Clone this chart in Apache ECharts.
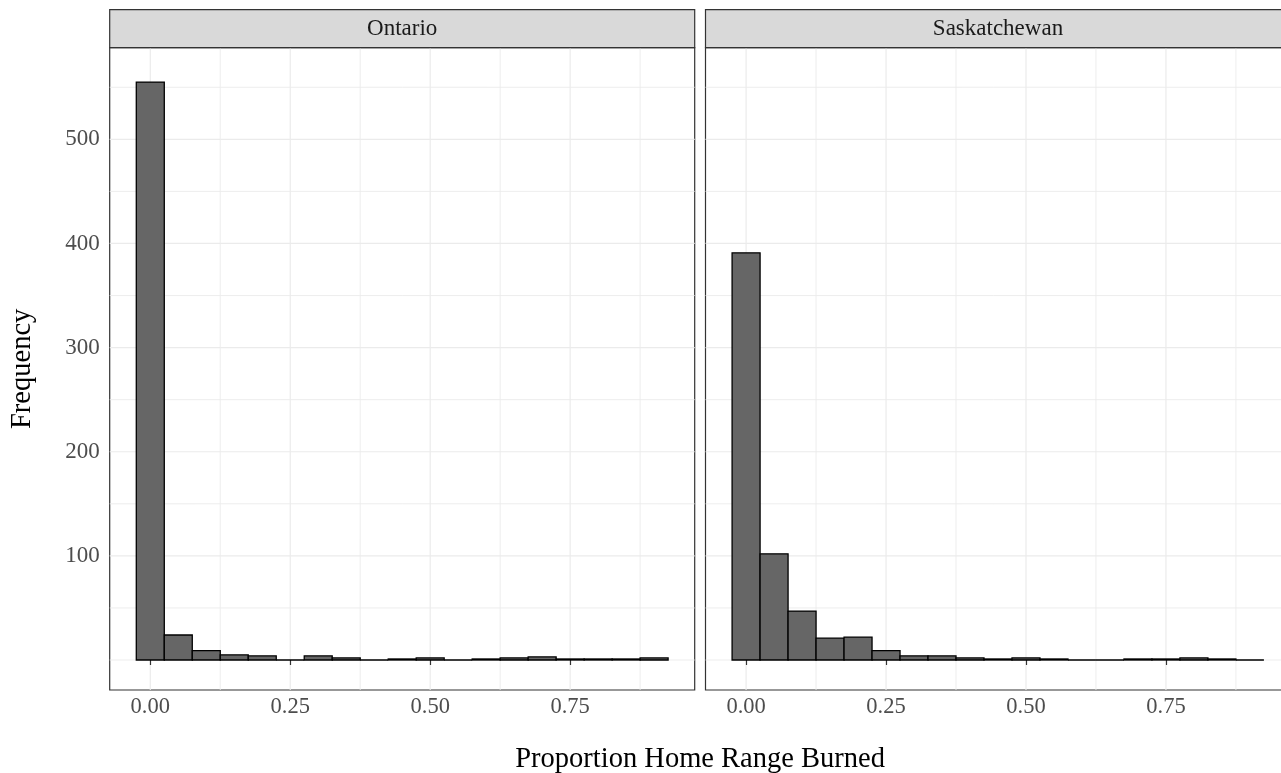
<!DOCTYPE html>
<html>
<head>
<meta charset="utf-8">
<script src="https://cdn.jsdelivr.net/npm/echarts@6/dist/echarts.min.js"></script>
<style>
  html, body { margin: 0; padding: 0; background: #ffffff; }
  #chart { width: 1281px; height: 773px; }
</style>
</head>
<body>
<div id="chart"></div>
<script>
// ---- data ----
const PANELS = ['Ontario', 'Saskatchewan'];
const BIN_CENTERS = [0, 0.05, 0.10, 0.15, 0.20, 0.25, 0.30, 0.35, 0.40, 0.45, 0.50, 0.55, 0.60, 0.65, 0.70, 0.75, 0.80, 0.85, 0.90];
const BIN_WIDTH = 0.05;
const ONTARIO = [555, 24, 9, 5, 4, 0, 4, 2, 0, 1, 2, 0, 1, 2, 3, 1, 1, 1, 2];
const SASKATCHEWAN = [391, 102, 47, 21, 22, 9, 4, 4, 2, 1, 2, 1, 0, 0, 1, 1, 2, 1, 0];
const X_MAJOR = [0, 0.25, 0.5, 0.75];
const X_MINOR = [0.125, 0.375, 0.625, 0.875];
const Y_MAJOR = [100, 200, 300, 400, 500];
const Y_MINOR = [0, 50, 150, 250, 350, 450, 550];
const X_TITLE = 'Proportion Home Range Burned';
const Y_TITLE = 'Frequency';

const X_MIN = -0.0725, X_MAX = 0.9725;
const Y_MIN = -28.8, Y_MAX = 588;

const FONT = '"Liberation Serif", "Times New Roman", serif';
const PANEL_TOP = 47.7, PANEL_H = 642.3, PANEL_W = 585;
const PANEL_LEFTS = [109.7, 705.5];
const STRIP_TOP = 9.7, STRIP_H = 38;

const chart = echarts.init(document.getElementById('chart'), null, { renderer: 'canvas' });

const grids = PANEL_LEFTS.map(l => ({
  left: l, top: PANEL_TOP, width: PANEL_W, height: PANEL_H,
  show: true, backgroundColor: '#ffffff', borderColor: '#333333', borderWidth: 1.2,
  containLabel: false, outerBoundsMode: 'none'
}));

const xAxes = PANEL_LEFTS.map((l, i) => ({
  type: 'value', gridIndex: i, min: X_MIN, max: X_MAX,
  axisLine: { show: false },
  splitLine: { show: false },
  axisTick: { show: true, customValues: X_MAJOR, length: 5, inside: false, lineStyle: { color: '#333333', width: 1.2 } },
  axisLabel: { show: true, customValues: X_MAJOR, margin: 6, color: '#4D4D4D', fontFamily: FONT, fontSize: 22.5,
    formatter: v => Number(v).toFixed(2) }
}));

const yAxes = PANEL_LEFTS.map((l, i) => ({
  type: 'value', gridIndex: i, min: Y_MIN, max: Y_MAX,
  axisLine: { show: false },
  splitLine: { show: false },
  axisTick: { show: i === 0, customValues: Y_MAJOR, length: 5, lineStyle: { color: '#333333', width: 1.2 } },
  axisLabel: { show: i === 0, customValues: Y_MAJOR, margin: 10, color: '#4D4D4D', fontFamily: FONT, fontSize: 23 }
}));

// gridline items: [x, y, orientation(0=horizontal,1=vertical), major]
const gridItems = [];
Y_MINOR.forEach(v => gridItems.push([0, v, 0, 0]));
Y_MAJOR.forEach(v => gridItems.push([0, v, 0, 1]));
X_MINOR.forEach(v => gridItems.push([v, 0, 1, 0]));
X_MAJOR.forEach(v => gridItems.push([v, 0, 1, 1]));

function renderGrid(params, api) {
  const cs = params.coordSys;
  const orient = api.value(2);
  const major = api.value(3);
  const style = { stroke: '#EBEBEB', lineWidth: major ? 1.2 : 0.9 };
  if (orient === 0) {
    const y = api.coord([0, api.value(1)])[1];
    return { type: 'line', shape: { x1: cs.x, y1: y, x2: cs.x + cs.width, y2: y }, style };
  } else {
    const x = api.coord([api.value(0), 0])[0];
    return { type: 'line', shape: { x1: x, y1: cs.y, x2: x, y2: cs.y + cs.height }, style };
  }
}

function renderBar(params, api) {
  const c = api.value(0), n = api.value(1);
  const p0 = api.coord([c - BIN_WIDTH / 2, n]);
  const p1 = api.coord([c + BIN_WIDTH / 2, 0]);
  return {
    type: 'rect',
    shape: { x: p0[0], y: p0[1], width: p1[0] - p0[0], height: p1[1] - p0[1] },
    style: { fill: '#666666', stroke: '#000000', lineWidth: 1.3 }
  };
}

const counts = [ONTARIO, SASKATCHEWAN];
const series = [];
PANELS.forEach((p, i) => {
  series.push({
    type: 'custom', name: p + ' grid', xAxisIndex: i, yAxisIndex: i, z: 0, silent: true,
    renderItem: renderGrid, data: gridItems, clip: false
  });
  series.push({
    type: 'custom', name: p, xAxisIndex: i, yAxisIndex: i, z: 2, silent: true,
    renderItem: renderBar, data: BIN_CENTERS.map((c, k) => [c, counts[i][k]])
  });
});

const graphics = [];
PANELS.forEach((p, i) => {
  graphics.push({
    type: 'rect', silent: true, z: 10,
    shape: { x: PANEL_LEFTS[i], y: STRIP_TOP, width: PANEL_W, height: STRIP_H },
    style: { fill: '#D9D9D9', stroke: '#333333', lineWidth: 1.2 }
  });
  graphics.push({
    type: 'text', silent: true, z: 11,
    x: PANEL_LEFTS[i] + PANEL_W / 2, y: STRIP_TOP + STRIP_H / 2,
    style: { text: p, font: '23px ' + FONT, fill: '#1A1A1A', textAlign: 'center', textVerticalAlign: 'middle' }
  });
});
graphics.push({
  type: 'text', silent: true, z: 11,
  x: (PANEL_LEFTS[0] + PANEL_LEFTS[1] + PANEL_W) / 2, y: 760,
  style: { text: X_TITLE, font: '28.5px ' + FONT, fill: '#000000', textAlign: 'center', textVerticalAlign: 'middle' }
});
graphics.push({
  type: 'text', silent: true, z: 11,
  x: 23, y: PANEL_TOP + PANEL_H / 2, rotation: Math.PI / 2,
  style: { text: Y_TITLE, font: '28.5px ' + FONT, fill: '#000000', textAlign: 'center', textVerticalAlign: 'middle' }
});

chart.setOption({
  animation: false,
  backgroundColor: '#ffffff',
  grid: grids,
  xAxis: xAxes,
  yAxis: yAxes,
  series: series,
  graphic: graphics
});
</script>
</body>
</html>
